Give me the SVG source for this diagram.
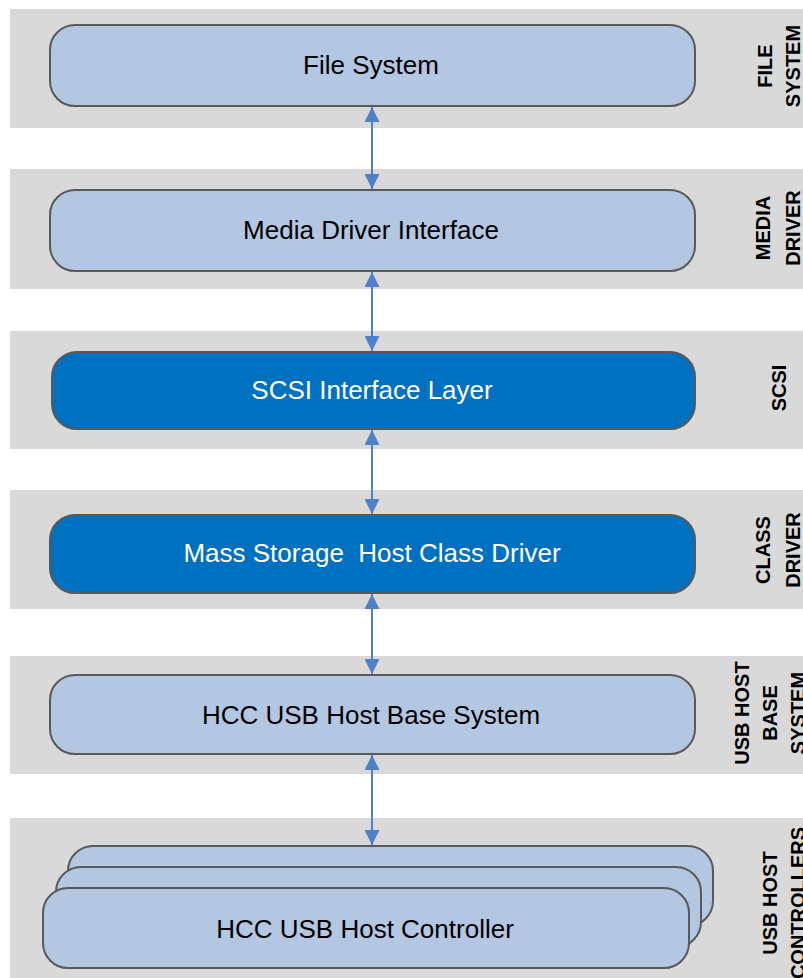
<svg xmlns="http://www.w3.org/2000/svg" width="803" height="978" viewBox="0 0 803 978">
<defs>
<style>
.band{fill:#d9d9d9}
.light{fill:#b3c6e2;stroke:#595959;stroke-width:2}
.dark{fill:#0070c0;stroke:#595959;stroke-width:2}
.t{font-family:"Liberation Sans",Arial,sans-serif;font-size:26px;text-anchor:middle;fill:#000}
.tw{fill:#fff}
.side{font-family:"Liberation Sans",Arial,sans-serif;font-size:20px;font-weight:bold;text-anchor:middle;fill:#000}
.conn{stroke:#4f81c8;stroke-width:2;fill:none;marker-start:url(#ah);marker-end:url(#ah)}
</style>
<marker id="ah" markerUnits="userSpaceOnUse" markerWidth="15" markerHeight="15" viewBox="0 0 10 10" refX="10" refY="5" orient="auto-start-reverse">
<path d="M0,0 L10,5 L0,10 z" fill="#4f81c8"/>
</marker>
</defs>
<rect width="803" height="978" fill="#fff"/>
<g id="bands">
<rect class="band" x="10" y="9" width="800" height="119"/>
<rect class="band" x="10" y="169" width="800" height="120"/>
<rect class="band" x="10" y="331" width="800" height="118"/>
<rect class="band" x="10" y="490" width="800" height="119"/>
<rect class="band" x="10" y="656" width="800" height="118"/>
<rect class="band" x="10" y="818" width="800" height="170"/>
</g>
<g id="side-labels">
<text class="side" transform="translate(772,66) rotate(-90)"><tspan x="0" y="0">FILE</tspan><tspan x="0" y="28">SYSTEM</tspan></text>
<text class="side" transform="translate(770,228) rotate(-90)"><tspan x="0" y="0">MEDIA</tspan><tspan x="0" y="30">DRIVER</tspan></text>
<text class="side" transform="translate(786,388) rotate(-90)">SCSI</text>
<text class="side" transform="translate(770,550) rotate(-90)"><tspan x="0" y="0">CLASS</tspan><tspan x="0" y="30">DRIVER</tspan></text>
<text class="side" transform="translate(749,713) rotate(-90)"><tspan x="0" y="0">USB  HOST</tspan><tspan x="0" y="28">BASE</tspan><tspan x="0" y="56">SYSTEM</tspan></text>
<text class="side" transform="translate(777,903) rotate(-90)"><tspan x="0" y="0">USB  HOST</tspan><tspan x="0" y="28">CONTROLLERS</tspan></text>
</g>
<g id="connectors">
<line class="conn" x1="372" y1="107" x2="372" y2="189"/>
<line class="conn" x1="372" y1="272" x2="372" y2="351"/>
<line class="conn" x1="372" y1="430" x2="372" y2="514"/>
<line class="conn" x1="372" y1="594" x2="372" y2="674"/>
<line class="conn" x1="372" y1="755" x2="372" y2="845"/>
</g>
<g id="file-system">
<rect class="light" x="50" y="25" width="645" height="81" rx="25"/>
<text class="t" x="371" y="74">File System</text>
</g>
<g id="media-driver">
<rect class="light" x="50" y="190" width="645" height="81" rx="25"/>
<text class="t" x="371" y="239">Media Driver Interface</text>
</g>
<g id="scsi">
<rect class="dark" x="52" y="352" width="643" height="77" rx="25"/>
<text class="t tw" x="372" y="399">SCSI Interface Layer</text>
</g>
<g id="mass-storage">
<rect class="dark" x="50" y="515" width="645" height="78" rx="25"/>
<text class="t tw" x="372" y="562" xml:space="preserve">Mass Storage  Host Class Driver</text>
</g>
<g id="usb-host-base">
<rect class="light" x="50" y="675" width="645" height="79" rx="25"/>
<text class="t" x="371" y="724">HCC USB Host Base System</text>
</g>
<g id="usb-host-controller">
<rect class="light" x="68" y="846" width="645" height="80" rx="25"/>
<rect class="light" x="56" y="867" width="645" height="80" rx="25"/>
<rect class="light" x="43" y="888" width="646" height="80" rx="25"/>
<text class="t" x="365" y="938">HCC USB Host Controller</text>
</g>
</svg>
